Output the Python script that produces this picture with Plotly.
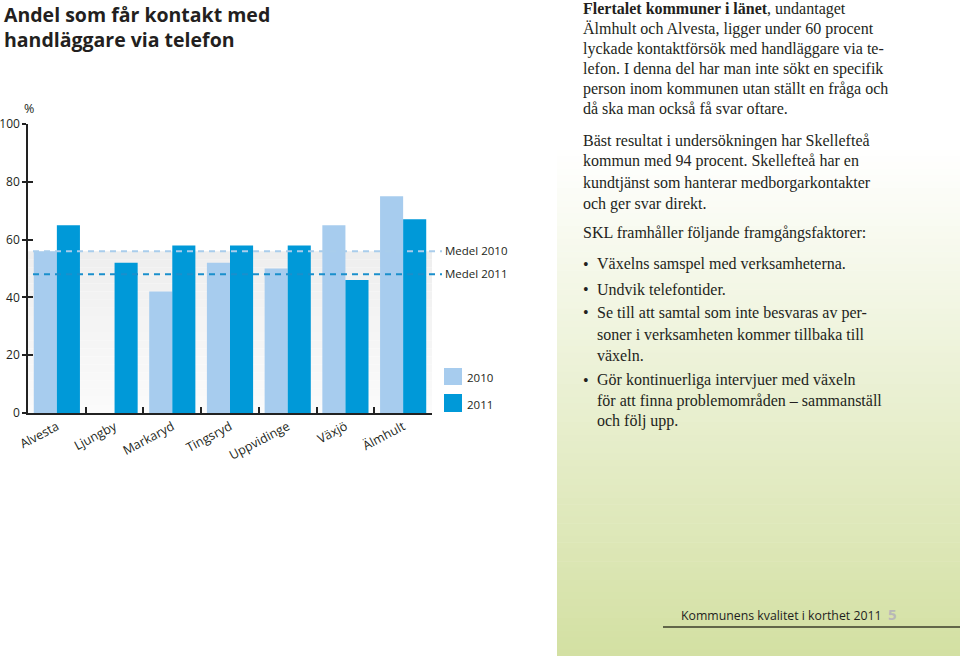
import plotly.graph_objects as go

# ---- data ----
kommuner = ["Alvesta", "Ljungby", "Markaryd", "Tingsryd", "Uppvidinge", "Växjö", "Älmhult"]
andel_2010 = [56, None, 42, 52, 50, 65, 75]
andel_2011 = [65, 52, 58, 58, 58, 46, 67]
medel_2010 = 56
medel_2011 = 48
y_ticks = [0, 20, 40, 60, 80, 100]

W, H = 960, 656
def px(x): return x / W
def py(y): return 1 - y / H

C2010 = "#a7ccee"
C2011 = "#0099d8"
TXT = "#231f20"
SANS = "Open Sans"
SERIF = "Liberation Serif"

fig = go.Figure()
fig.add_trace(go.Bar(x=kommuner, y=andel_2010, name="2010", marker=dict(color=C2010, line=dict(width=0))))
fig.add_trace(go.Bar(x=kommuner, y=andel_2011, name="2011", marker=dict(color=C2011, line=dict(width=0))))
# invisible trace to carry second y axis (crossing tick marks)
fig.add_trace(go.Scatter(x=[kommuner[0]], y=[0], yaxis="y2", mode="markers",
                         marker=dict(opacity=0), showlegend=False, hoverinfo="skip"))

shapes = []
# green gradient panel on right
n = 80
top, bot = 150, 656
c0 = (255, 255, 255)
c1 = (211, 224, 162)
for i in range(n):
    y0 = top + (bot - top) * i / n
    y1 = top + (bot - top) * (i + 1) / n
    f = (i + 0.5) / n
    col = tuple(round(c0[k] + (c1[k] - c0[k]) * f) for k in range(3))
    shapes.append(dict(type="rect", xref="paper", yref="paper", x0=px(557), x1=1.0,
                       y0=py(y1) - 0.001, y1=py(y0), fillcolor="rgb(%d,%d,%d)" % col,
                       line=dict(width=0), layer="below"))

# light gray gradient band below Medel 2010
nb = 20
g0 = (238, 238, 238)
g1 = (251, 251, 251)
for i in range(nb):
    col = tuple(round(g0[k] + (g1[k] - g0[k]) * (i + 0.5) / nb) for k in range(3))
    shapes.append(dict(type="rect", xref="x", yref="y", x0=-0.5, x1=6.5,
                       y0=medel_2010 * (1 - (i + 1) / nb), y1=medel_2010 * (1 - i / nb),
                       fillcolor="rgb(%d,%d,%d)" % col, line=dict(width=0), layer="below"))

# mean lines
shapes.append(dict(type="line", xref="paper", yref="y", x0=px(33), x1=px(442),
                   y0=medel_2010, y1=medel_2010, line=dict(color="#a9cdec", width=2, dash="6px,5px"),
                   layer="above"))
shapes.append(dict(type="line", xref="paper", yref="y", x0=px(33), x1=px(442),
                   y0=medel_2011, y1=medel_2011, line=dict(color="#1a8fcc", width=2, dash="6px,5px"),
                   layer="above"))

# legend squares
shapes.append(dict(type="rect", xref="paper", yref="paper", x0=px(444), x1=px(462),
                   y0=py(385), y1=py(368), fillcolor=C2010, line=dict(width=0)))
shapes.append(dict(type="rect", xref="paper", yref="paper", x0=px(444), x1=px(462),
                   y0=py(412), y1=py(394), fillcolor=C2011, line=dict(width=0)))

# footer line
shapes.append(dict(type="line", xref="paper", yref="paper", x0=px(663), x1=1.0,
                   y0=py(627), y1=py(627), line=dict(color="#3b3d2a", width=1.5)))

ann = []
def text(x, y, s, size, family=SANS, color=TXT, xanchor="left", yanchor="middle"):
    ann.append(dict(xref="paper", yref="paper", x=px(x), y=py(y), text=s, showarrow=False,
                    xanchor=xanchor, yanchor=yanchor, align="left", borderpad=0,
                    font=dict(family=family, size=size, color=color)))

# title
text(3, 0, "<b>Andel som får kontakt med<br>handläggare via telefon</b>", 19.5, yanchor="top")
text(29, 108, "%", 12.5, xanchor="center")

# mean / legend labels
text(444, 251, "Medel 2010", 11.5)
text(444, 273, "Medel 2011", 11.5)
text(466, 377, "2010", 11.5)
text(466, 404, "2011", 11.5)

# right text column
lines = [
    (9, "<b>Flertalet kommuner i länet</b>, undantaget"),
    (29, "Älmhult och Alvesta, ligger under 60 procent"),
    (49, "lyckade kontaktförsök med handläggare via te-"),
    (69, "lefon. I denna del har man inte sökt en specifik"),
    (89, "person inom kommunen utan ställt en fråga och"),
    (109, "då ska man också få svar oftare."),
    (141, "Bäst resultat i undersökningen har Skellefteå"),
    (161, "kommun med 94 procent. Skellefteå har en"),
    (183, "kundtjänst som hanterar medborgarkontakter"),
    (204, "och ger svar direkt."),
    (233, "SKL framhåller följande framgångsfaktorer:"),
]
for y, s in lines:
    text(582, y, s, 16, family=SERIF)

bullets = [
    [(264, "Växelns samspel med verksamheterna.")],
    [(289, "Undvik telefontider.")],
    [(313, "Se till att samtal som inte besvaras av per-"),
     (334, "soner i verksamheten kommer tillbaka till"),
     (355, "växeln.")],
    [(380, "Gör kontinuerliga intervjuer med växeln"),
     (401, "för att finna problemområden – sammanställ"),
     (421, "och följ upp.")],
]
for b in bullets:
    text(582, b[0][0], "•", 16, family=SERIF)
    for y, s in b:
        text(596, y, s, 16, family=SERIF)

# footer
text(680, 615, "Kommunens kvalitet i korthet 2011", 12.3, color="#1e1e1e")
text(887, 614, "<b>5</b>", 15, color="#b8b8b8")

fig.update_layout(
    width=W, height=H,
    margin=dict(l=0, r=0, t=0, b=0, autoexpand=False),
    paper_bgcolor="white", plot_bgcolor="rgba(0,0,0,0)",
    showlegend=False,
    barmode="group", bargap=0.2, bargroupgap=0,
    shapes=shapes, annotations=ann,
    xaxis=dict(domain=[px(28), px(432)], range=[-0.5, 6.5], type="category", automargin=False,
               showline=True, linecolor="#222", linewidth=1.5,
               ticks="inside", tickson="boundaries", ticklen=6, tickwidth=1.5, tickcolor="#222",
               tickangle=-28, tickfont=dict(family=SANS, size=12.5, color=TXT),
               showgrid=False, zeroline=False, fixedrange=True),
    yaxis=dict(domain=[py(413), py(124)], range=[0, 100], tickvals=y_ticks, automargin=False,
               showline=True, linecolor="#222", linewidth=1.5,
               ticks="outside", ticklen=4, tickwidth=1.5, tickcolor="#222",
               tickfont=dict(family=SANS, size=12, color=TXT),
               showgrid=False, zeroline=False, fixedrange=True),
    yaxis2=dict(overlaying="y", anchor="x", side="left", range=[0, 100], tickvals=y_ticks,
                automargin=False,
                showticklabels=False, ticks="inside", ticklen=5, tickwidth=1.5, tickcolor="#222",
                showline=False, showgrid=False, zeroline=False, fixedrange=True),
)

fig.write_html("out.html", config={"displayModeBar": False},
               post_script="document.body.style.margin='0';document.body.style.overflow='hidden';")
